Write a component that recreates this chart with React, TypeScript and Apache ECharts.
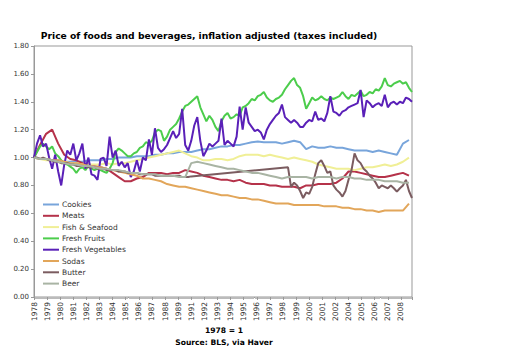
import React, { useEffect, useRef } from "react";
import * as echarts from "echarts";

// Monthly index 0 = Jan 1978; values sampled every FINE_STEP or COARSE_STEP months
const FINE_STEP = 3;
const COARSE_STEP = 6;
const X_MAX = 375;
const START_YEAR = 1978;

const seriesNames = [
  "Cookies",
  "Meats",
  "Fish & Seafood",
  "Fresh Fruits",
  "Fresh Vegetables",
  "Sodas",
  "Butter",
  "Beer",
];

const seriesColors = [
  "#78a5db",
  "#b5324a",
  "#f0ef96",
  "#4ccd4c",
  "#5a20b8",
  "#e2a65a",
  "#7b5c60",
  "#a9b4a4",
];

// every 6 months
const cookies = [
  1.0, 0.99, 0.99, 0.98, 0.98, 0.97, 0.97, 0.97, 0.97, 0.98, 0.98, 0.98, 0.99, 0.99, 1.0, 1.0,
  1.0, 1.01, 1.01, 1.01, 1.02, 1.02, 1.03, 1.03, 1.04, 1.04, 1.04, 1.05, 1.06, 1.06, 1.07, 1.08,
  1.08, 1.09, 1.09, 1.1, 1.11, 1.115, 1.11, 1.11, 1.11, 1.1, 1.11, 1.12, 1.11, 1.06, 1.08, 1.07,
  1.07, 1.08, 1.07, 1.07, 1.06, 1.05, 1.05, 1.05, 1.04, 1.05, 1.04, 1.03, 1.02, 1.1, 1.126,
];

// every 6 months
const meats = [
  1.0, 1.09, 1.17, 1.2, 1.1, 1.02, 0.99, 0.98, 0.96, 0.95, 0.94, 0.93, 0.92, 0.89, 0.86, 0.83,
  0.83, 0.85, 0.86, 0.89, 0.89, 0.89, 0.88, 0.89, 0.89, 0.91, 0.9, 0.89, 0.87, 0.86, 0.85, 0.84,
  0.84, 0.83, 0.84, 0.82, 0.81, 0.81, 0.81, 0.8, 0.8, 0.79, 0.79, 0.79, 0.78, 0.8, 0.8, 0.81,
  0.81, 0.81, 0.82, 0.85, 0.9, 0.9, 0.89, 0.88, 0.87, 0.86, 0.86, 0.87, 0.88, 0.89, 0.87,
];

// every 6 months
const fishSeafood = [
  1.0, 0.99, 0.98, 0.98, 0.97, 0.97, 0.96, 0.96, 0.95, 0.95, 0.95, 0.95, 0.96, 0.95, 0.96, 0.96,
  0.97, 0.98, 0.99, 1.0, 1.01, 1.02, 1.03, 1.04, 1.05, 1.03, 1.01, 1.0, 0.98, 0.98, 0.99, 0.99,
  0.98, 0.99, 1.01, 1.02, 1.02, 1.02, 1.01, 1.02, 1.01, 1.0, 0.99, 1.0, 0.99, 0.98, 0.97, 0.95,
  0.94, 0.93, 0.92, 0.92, 0.92, 0.91, 0.92, 0.93, 0.93, 0.94, 0.95, 0.94, 0.95, 0.97, 1.0,
];

// every 3 months
const freshFruits = [
  1.0, 1.04, 1.08, 1.1, 1.08, 1.06, 1.08, 1.03, 1.01, 0.98, 0.96, 0.95, 0.935, 0.92, 0.89, 0.92,
  0.93, 0.91, 0.94, 0.92, 0.91, 0.92, 0.91, 0.9, 0.89, 0.92, 0.96, 1.04, 1.065, 1.05, 1.03, 1.01,
  1.01, 1.03, 1.04, 1.07, 1.08, 1.11, 1.1, 1.12, 1.18, 1.2, 1.19, 1.12, 1.15, 1.2, 1.22, 1.24,
  1.28, 1.33, 1.37, 1.38, 1.4, 1.42, 1.44, 1.36, 1.31, 1.26, 1.3, 1.27, 1.22, 1.19, 1.26, 1.3,
  1.32, 1.28, 1.29, 1.31, 1.3, 1.36, 1.37, 1.39, 1.42, 1.41, 1.44, 1.45, 1.47, 1.43, 1.41, 1.4,
  1.42, 1.43, 1.45, 1.49, 1.52, 1.55, 1.57, 1.52, 1.5, 1.44, 1.35, 1.39, 1.43, 1.41, 1.42, 1.44,
  1.42, 1.41, 1.43, 1.42, 1.43, 1.44, 1.47, 1.44, 1.42, 1.45, 1.44, 1.46, 1.48, 1.44, 1.45, 1.47,
  1.46, 1.49, 1.48, 1.51, 1.57, 1.52, 1.51, 1.53, 1.54, 1.55, 1.53, 1.54, 1.5, 1.47,
];

// every 3 months
const freshVegetables = [
  1.0, 1.1, 1.16, 1.08, 1.1, 1.0, 0.92, 1.02, 0.9, 0.8, 0.95, 1.05, 1.02, 1.1, 0.98, 1.03,
  1.1, 0.92, 1.0, 0.88, 0.87, 0.84, 0.99, 1.0, 0.94, 1.15, 1.0, 1.05, 0.94, 0.97, 0.93, 0.96,
  0.86, 0.9, 0.98, 0.9, 1.0, 0.98, 1.13, 1.02, 1.21, 1.07, 1.04, 1.06, 1.09, 1.14, 1.19, 1.14,
  1.17, 1.35, 1.09, 1.05, 1.12, 1.23, 1.29, 1.12, 1.01, 1.05, 1.1, 1.08, 1.1, 1.12, 1.28, 1.09,
  1.12, 1.1, 1.08, 1.15, 1.365, 1.2, 1.36, 1.25, 1.22, 1.19, 1.2, 1.18, 1.13, 1.2, 1.24, 1.27,
  1.3, 1.32, 1.38, 1.29, 1.27, 1.25, 1.27, 1.25, 1.22, 1.22, 1.25, 1.27, 1.26, 1.33, 1.27, 1.28,
  1.26, 1.32, 1.44, 1.33, 1.32, 1.3, 1.33, 1.34, 1.36, 1.37, 1.38, 1.39, 1.485, 1.29, 1.41, 1.39,
  1.36, 1.38, 1.39, 1.37, 1.45, 1.36, 1.39, 1.4, 1.38, 1.4, 1.39, 1.43, 1.42, 1.4,
];

// every 6 months
const sodas = [
  1.0, 0.99, 0.99, 0.98, 0.98, 0.97, 0.96, 0.96, 0.95, 0.94, 0.93, 0.93, 0.92, 0.91, 0.9, 0.89,
  0.88, 0.87, 0.85, 0.85, 0.84, 0.83, 0.81, 0.8, 0.79, 0.79, 0.78, 0.77, 0.76, 0.75, 0.74, 0.73,
  0.73, 0.72, 0.71, 0.71, 0.7, 0.7, 0.69, 0.68, 0.67, 0.67, 0.67, 0.66, 0.66, 0.66, 0.66, 0.66,
  0.65, 0.65, 0.65, 0.64, 0.64, 0.63, 0.63, 0.62, 0.62, 0.61, 0.62, 0.62, 0.62, 0.62, 0.67,
];

// every 3 months (gap 1991-1998 is missing data, joined by a straight line)
const butter = [
  1.0, 1.0, 0.99, 1.0, 0.99, 0.98, 0.98, 0.97, 0.97, 0.96, 0.96, 0.96, 0.95, 0.95, 0.94, 0.94,
  0.94, 0.94, 0.93, 0.93, 0.93, 0.92, 0.92, 0.92, 0.91, 0.91, 0.91, 0.91, 0.9, 0.9, 0.9, 0.89,
  0.89, 0.89, 0.89, 0.88, 0.88, 0.88, 0.88, 0.88, 0.87, 0.87, 0.87, 0.87, 0.87, 0.87, 0.87, 0.87,
  0.87, 0.86, 0.86, 0.86, 0.865,
  null, null, null, null, null, null, null, null, null, null, null, null, null, null, null, null,
  null, null, null, null, null, null, null, null, null, null, null, null, null, null, null,
  0.93, 0.79, 0.82, 0.8, 0.76, 0.71, 0.75, 0.74, 0.79, 0.88, 0.96, 0.98, 0.94, 0.89, 0.9, 0.8,
  0.77, 0.75, 0.72, 0.76, 0.84, 0.91, 1.03, 0.98, 0.96, 0.92, 0.9, 0.87, 0.85, 0.82, 0.78, 0.8,
  0.79, 0.78, 0.8, 0.78, 0.755, 0.78, 0.8, 0.84, 0.76, 0.71,
];

// every 6 months
const beer = [
  1.0, 0.99, 0.99, 0.98, 0.97, 0.96, 0.95, 0.95, 0.94, 0.94, 0.93, 0.92, 0.92, 0.91, 0.91, 0.9,
  0.89, 0.89, 0.88, 0.88, 0.88, 0.87, 0.87, 0.87, 0.86, 0.86, 0.96, 0.97, 0.96, 0.95, 0.94, 0.93,
  0.92, 0.92, 0.91, 0.9, 0.89, 0.89, 0.88, 0.87, 0.86, 0.85, 0.86, 0.86, 0.86, 0.86, 0.85, 0.86,
  0.86, 0.86, 0.85, 0.86, 0.86, 0.85, 0.85, 0.84, 0.84, 0.84, 0.83, 0.83, 0.83, 0.82, 0.82,
];

const seriesData: [Array<number | null>, number][] = [
  [cookies, COARSE_STEP],
  [meats, COARSE_STEP],
  [fishSeafood, COARSE_STEP],
  [freshFruits, FINE_STEP],
  [freshVegetables, FINE_STEP],
  [sodas, COARSE_STEP],
  [butter, FINE_STEP],
  [beer, COARSE_STEP],
];

const yTicks = [0, 0.2, 0.4, 0.6, 0.8, 1.0, 1.2, 1.4, 1.6, 1.8];

const FONT = "DejaVu Sans";

export default function App() {
  const ref = useRef<HTMLDivElement>(null);

  useEffect(() => {
    if (!ref.current) return;
    const chart = echarts.init(ref.current, undefined, { renderer: "svg" });

    const series = seriesNames.map((name, k) => {
      const [vals, step] = seriesData[k];
      return {
        name,
        type: "line",
        data: vals.map((v, i) => [i * step, v]),
        symbol: "none",
        showSymbol: false,
        connectNulls: true,
        lineStyle: { width: 2, color: seriesColors[k] },
        itemStyle: { color: seriesColors[k] },
        emphasis: { disabled: true },
      };
    });

    chart.setOption({
      animation: false,
      backgroundColor: "#ffffff",
      textStyle: { fontFamily: FONT },
      grid: {
        left: 34,
        top: 46,
        width: 378,
        height: 251,
        show: true,
        borderColor: "#999",
        borderWidth: 1,
        backgroundColor: "transparent",
      },
      legend: {
        orient: "vertical",
        left: 43,
        top: 199.5,
        padding: 0,
        icon: "rect",
        itemWidth: 16,
        itemHeight: 2,
        itemGap: 1.3,
        data: seriesNames,
        textStyle: { fontFamily: FONT, fontSize: 7.5, color: "#333", lineHeight: 10, padding: [0, 0, 0, -2] },
      },
      xAxis: {
        type: "value",
        min: 0,
        max: X_MAX,
        interval: 13,
        splitLine: { show: false },
        axisLine: { show: true, lineStyle: { color: "#999" } },
        axisTick: { show: true, length: 3, lineStyle: { color: "#999" } },
        minorTick: { show: true, splitNumber: 13, length: 2, lineStyle: { color: "#bbb" } },
        axisLabel: {
          rotate: 90,
          fontFamily: FONT,
          fontSize: 7.5,
          color: "#333",
          margin: 5,
          showMaxLabel: false,
          formatter: (v: number) => String(START_YEAR + Math.floor(v / 12)),
        },
      },
      yAxis: {
        type: "value",
        min: yTicks[0],
        max: yTicks[yTicks.length - 1],
        interval: 0.2,
        splitLine: { show: false },
        axisLine: { show: true, lineStyle: { color: "#999" } },
        axisTick: { show: true, length: 3, lineStyle: { color: "#999" } },
        axisLabel: {
          fontFamily: FONT,
          fontSize: 7,
          color: "#333",
          margin: 5,
          formatter: (v: number) => v.toFixed(2),
        },
      },
      graphic: [
        {
          type: "text",
          x: 209,
          y: 35,
          style: {
            text: "Price of foods and beverages, inflation adjusted (taxes included)",
            font: `bold 9.2px '${FONT}'`,
            fill: "#000",
            textAlign: "center",
            textVerticalAlign: "middle",
          },
        },
        {
          type: "text",
          x: 224,
          y: 330.5,
          style: {
            text: "1978 = 1",
            font: `bold 7.6px '${FONT}'`,
            fill: "#000",
            textAlign: "center",
            textVerticalAlign: "middle",
          },
        },
        {
          type: "text",
          x: 224,
          y: 342,
          style: {
            text: "Source: BLS, via Haver",
            font: `bold 7.6px '${FONT}'`,
            fill: "#000",
            textAlign: "center",
            textVerticalAlign: "middle",
          },
        },
      ],
      series,
    });

    return () => chart.dispose();
  }, []);

  return <div ref={ref} style={{ width: 525, height: 358, position: "absolute", left: 0, top: 0 }} />;
}
